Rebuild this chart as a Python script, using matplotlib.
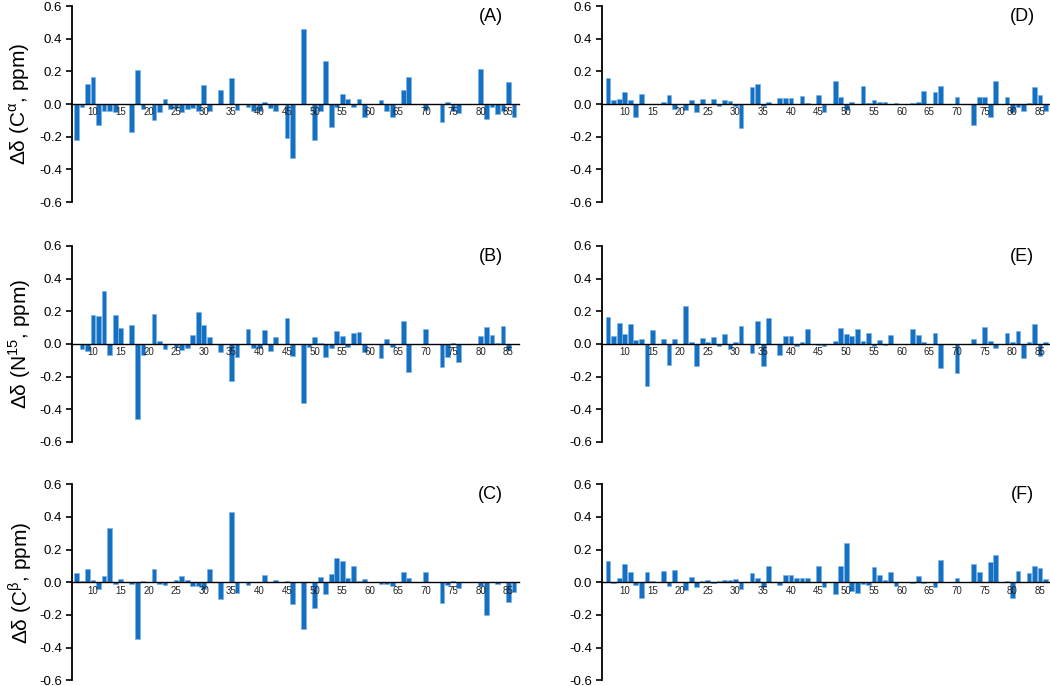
import matplotlib
matplotlib.use('Agg')
import matplotlib.pyplot as plt
import numpy as np

plt.rcParams['font.family'] = ['Liberation Sans', 'DejaVu Sans']
plt.rcParams['axes.unicode_minus'] = False
plt.rcParams['mathtext.fontset'] = 'custom'
plt.rcParams['mathtext.rm'] = 'Liberation Sans'

# residue numbers 7..86
residues = np.arange(7, 87)

ca_a = [-0.22, -0.02, 0.12, 0.165, -0.13, -0.04, -0.04, -0.05, 0, 0,
        -0.17, 0.21, -0.03, 0, -0.10, -0.047, 0.033, -0.03, -0.022, -0.05,
        -0.03, -0.025, -0.043, 0.118, -0.043, 0, 0.088, 0, 0.157, -0.035,
        0, -0.018, -0.04, -0.04, 0.01, -0.022, -0.04, 0, -0.206, -0.33,
        0, 0.457, 0, -0.222, -0.04, 0.265, -0.141, -0.02, 0.059, 0.033,
        -0.018, 0.029, -0.078, 0, 0, 0.027, -0.04, -0.078, 0, 0.086,
        0.163, 0, 0, -0.035, 0, 0, -0.112, 0.014, -0.04, -0.053,
        0, 0, 0, 0.216, -0.094, -0.016, -0.063, -0.04, 0.133, -0.08]

n_b = [0, -0.031, -0.045, 0.18, 0.169, 0.324, -0.065, 0.176, 0.10, 0,
       0.114, -0.46, -0.069, 0, 0.186, 0.02, -0.031, 0, -0.018, -0.035,
       -0.027, 0.057, 0.198, 0.114, 0.043, 0, -0.051, 0, -0.224, -0.08,
       0, 0.094, -0.022, -0.022, 0.088, -0.043, 0.045, 0, 0.161, -0.071,
       0, -0.36, -0.02, 0.041, 0.005, -0.08, -0.024, 0.08, 0.049, -0.016,
       0.069, 0.076, -0.051, 0, 0, -0.086, 0.033, -0.016, 0, 0.139,
       -0.171, 0, 0, 0.094, 0, 0, -0.141, -0.08, 0.008, -0.112,
       0, 0, 0, 0.051, 0.102, 0.053, 0.008, 0.11, -0.035, 0]

cb_c = [0.059, 0.008, 0.082, 0.014, -0.041, 0.041, 0.335, -0.008, 0.018, 0,
        -0.008, -0.345, 0.006, 0, 0.08, -0.008, -0.016, 0, 0.012, 0.041,
        0.014, -0.02, -0.022, -0.041, 0.08, 0, -0.1, 0, 0.431, -0.067,
        0, -0.016, 0, 0, 0.045, 0, 0.016, 0, 0.008, -0.133,
        0, -0.288, 0, -0.155, 0.033, -0.071, 0.049, 0.147, 0.133, 0.029,
        0.102, 0.01, 0.018, 0, 0, -0.008, -0.012, -0.02, 0, 0.061,
        0.029, 0, 0, 0.061, 0, 0, -0.124, -0.016, 0.008, -0.033,
        0, 0, 0, -0.02, -0.2, 0, -0.012, 0, -0.118, -0.06]

ca_d = [0.157, 0.024, 0.031, 0.076, 0.024, -0.08, 0.059, 0, 0, 0,
        0.014, 0.055, -0.029, 0, -0.035, 0.024, -0.049, 0.033, 0, 0.031,
        -0.01, 0.027, 0.018, -0.012, -0.145, 0, 0.102, 0.12, -0.014, 0.014,
        0, 0.035, 0.035, 0.035, 0.002, 0.047, 0.006, 0, 0.057, -0.051,
        0, 0.141, 0.041, -0.039, 0.014, 0, 0.108, 0.004, 0.022, 0.012,
        0.012, 0, 0.004, 0, 0, 0.008, 0.014, 0.082, 0, 0.071,
        0.108, 0, 0, 0.043, 0, 0, -0.129, 0.045, 0.045, -0.08,
        0.141, 0, 0.045, -0.049, -0.018, -0.041, 0.004, 0.104, 0.053, -0.041]

n_e = [0.163, 0.051, 0.131, 0.059, 0.124, 0.027, 0.033, -0.259, 0.084, 0,
       0.031, -0.129, 0.031, 0, 0.231, 0.014, -0.137, 0.037, 0.014, 0.045,
       -0.014, 0.061, -0.029, 0.012, 0.11, 0, -0.055, 0.143, -0.137, 0.157,
       0, -0.065, 0.049, 0.049, -0.014, 0.014, 0.092, 0, -0.008, -0.014,
       0, 0.02, 0.1, 0.061, 0.049, 0.09, 0.02, 0.069, -0.01, 0.024,
       -0.006, 0.055, 0, 0, 0, 0.092, 0.055, 0.014, 0, 0.065,
       -0.149, 0, 0, -0.178, 0, 0, 0.033, 0, 0.106, 0.02,
       -0.027, 0, 0.065, 0.012, 0.078, -0.088, 0.01, 0.12, -0.071, 0.014]

cb_f = [0.129, -0.006, 0.029, 0.11, 0.061, -0.014, -0.096, 0.061, 0.008, 0,
        0.069, -0.022, 0.076, 0, -0.047, 0.031, -0.027, 0.01, 0.012, -0.004,
        0.008, 0.016, 0.016, 0.018, -0.041, 0, 0.055, 0.029, -0.031, 0.098,
        0, -0.018, 0.047, 0.047, 0.024, 0.024, 0.024, 0, 0.1, -0.031,
        0, -0.073, 0.1, 0.243, -0.053, -0.063, -0.01, -0.016, 0.094, 0.045,
        0.014, 0.061, -0.02, 0, 0, -0.004, 0.039, -0.006, 0, -0.031,
        0.135, 0, 0, 0.024, 0, 0, 0.11, 0.061, 0, 0.122,
        0.165, 0, 0.006, -0.096, 0.067, 0, 0.059, 0.102, 0.088, 0.018]

ylabels = [r'Δδ (C$^{\mathregular{\alpha}}$, ppm)',
           r'Δδ (N$^{\mathregular{15}}$, ppm)',
           r'Δδ (C$^{\mathregular{\beta}}$, ppm)']
yticks = [-0.6, -0.4, -0.2, 0.0, 0.2, 0.4, 0.6]
yticklabels = ['-0.6', '-0.4', '-0.2', '0.0', '0.2', '0.4', '0.6']
xticks = list(range(10, 86, 5))

bar_color = '#1670c2'
edge_color = '#7ab4e8'

fig = plt.figure(figsize=(10.5, 6.86), dpi=100)
W, H = 1050, 686
lefts = [72 / W, 602 / W]
xmins = [6.2, 5.9]
bottoms = [0.7055, 0.3557, 0.0083]
h = 196 / H
w = 447 / W

panels = [(ca_a, 0, 0, '(A)'), (n_b, 0, 1, '(B)'), (cb_c, 0, 2, '(C)'),
          (ca_d, 1, 0, '(D)'), (n_e, 1, 1, '(E)'), (cb_f, 1, 2, '(F)')]

for vals, col, row, letter in panels:
    ax = fig.add_axes([lefts[col], bottoms[row], w, h])
    ax.bar(residues, vals, width=0.85, color=bar_color,
           edgecolor=edge_color, linewidth=0.5, zorder=1)
    ax.set_xlim(xmins[col], xmins[col] + 80.7)
    ax.set_ylim(-0.6, 0.6)
    ax.spines['top'].set_visible(False)
    ax.spines['right'].set_visible(False)
    ax.spines['bottom'].set_position(('data', 0))
    ax.spines['bottom'].set_linewidth(1.0)
    ax.spines['left'].set_linewidth(1.3)
    ax.set_yticks(yticks)
    ax.set_yticklabels(yticklabels)
    ax.set_xticks(xticks)
    ax.set_xticklabels([str(t) for t in xticks])
    ax.tick_params(axis='y', direction='out', length=4, width=1.2,
                   labelsize=9.5, pad=3)
    ax.tick_params(axis='x', length=0, labelsize=7, pad=2.5,
                   labelcolor='#222222')
    ax.text(81.8, 0.535, letter, ha='center', va='center', fontsize=13)
    if col == 0:
        fig.text(20 / W, bottoms[row] + h / 2, ylabels[row], rotation=90,
                 ha='center', va='center', fontsize=15)

fig.savefig('out.png', dpi=100)
